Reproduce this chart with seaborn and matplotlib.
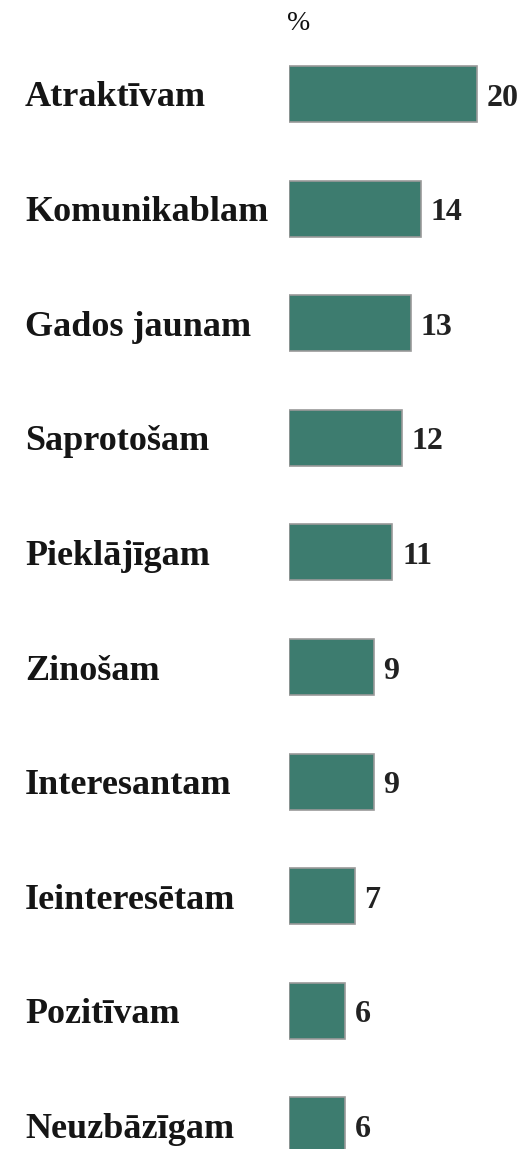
import matplotlib
matplotlib.use("Agg")
import matplotlib.pyplot as plt
import seaborn as sns
import pandas as pd

# data
labels = ["Atraktīvam", "Komunikablam", "Gados jaunam", "Saprotošam", "Pieklājīgam",
          "Zinošam", "Interesantam", "Ieinteresētam", "Pozitīvam", "Neuzbāzīgam"]
values = [20, 14, 13, 12, 11, 9, 9, 7, 6, 6]

df = pd.DataFrame({"label": labels, "value": values})

sns.set_style("white")
plt.rcParams["font.family"] = ["Liberation Serif", "DejaVu Serif"]

fig = plt.figure(figsize=(5.26, 11.49), dpi=100)
ax = fig.add_axes([289 / 526, 0, 1 - 289 / 526, 1])

sns.barplot(data=df, x="value", y="label", orient="h", color="#3d7c6f",
            saturation=1, edgecolor="#9a9a9a", linewidth=1.2, width=0.49, ax=ax)

ax.set_xlim(0, (526 - 289) / 9.4)
ax.set_ylim((1149 - 94) / 114.6, -94 / 114.6)
ax.set_xlabel("")
ax.set_ylabel("")
ax.set_xticks([])
sns.despine(ax=ax, left=True, bottom=True)

ax.tick_params(axis="y", length=0, pad=190)
for t in ax.get_yticklabels():
    t.set_horizontalalignment("left")
    t.set_fontsize(26)
    t.set_fontweight("bold")
    t.set_color("#151515")

anns = ax.bar_label(ax.containers[0], labels=[str(v) for v in values], padding=7,
                    fontsize=23, fontweight="bold", color="#222222")
for a in anns:
    a.xyann = (7, -3)

fig.text(299 / 526, 1 - 24 / 1149, "%", ha="center", va="center", fontsize=20, color="#111111")

fig.savefig("out.png", dpi=100)
